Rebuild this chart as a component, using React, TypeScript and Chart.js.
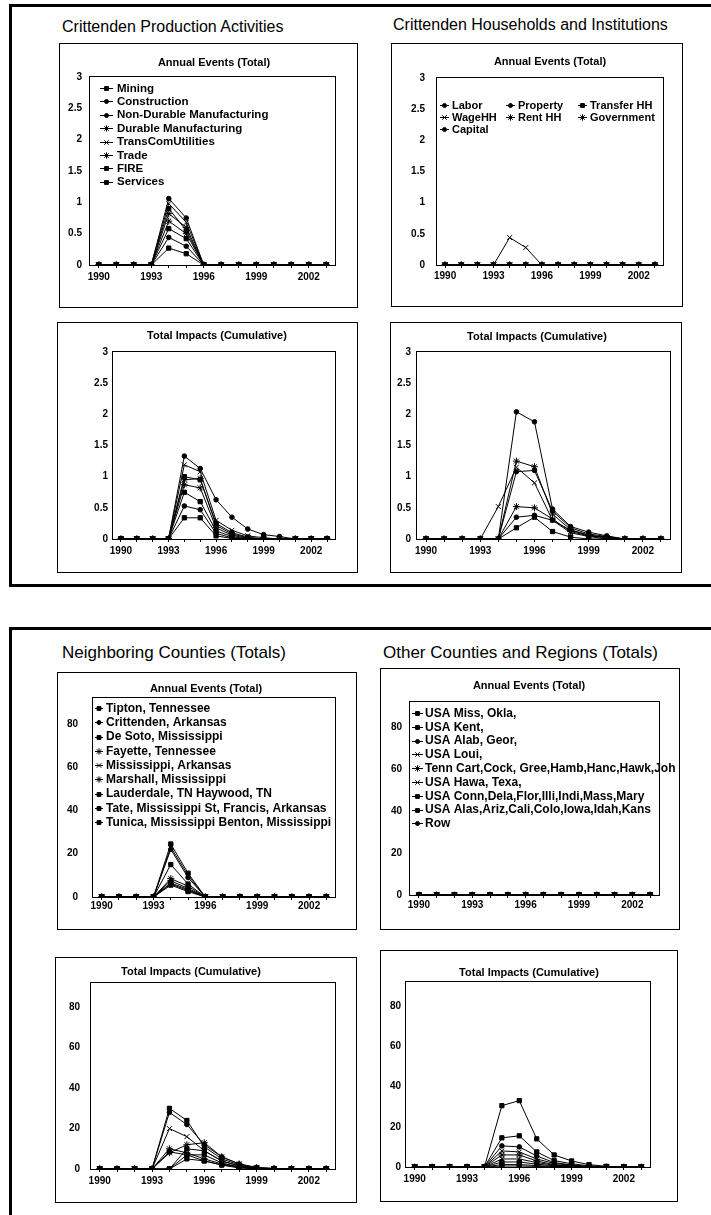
import React, { useEffect, useRef } from 'react';
import { Chart, registerables } from 'chart.js';
import { drawPoint } from 'chart.js/helpers';

Chart.register(...registerables);

const FONT = "'Liberation Sans', Arial, Helvetica, sans-serif";

// ---------- data ----------
const YEARS = ['1990', '1991', '1992', '1993', '1994', '1995', '1996', '1997', '1998', '1999', '2000', '2001', '2002', '2003'];

// Crittenden Production Activities
const PROD_LABELS = ['Mining', 'Construction', 'Non-Durable Manufacturing', 'Durable Manufacturing', 'TransComUtilities', 'Trade', 'FIRE', 'Services'];
const PROD_STYLES = ['rect', 'circle', 'circle', 'star', 'crossRot', 'star', 'rect', 'rect'];
const P_MINING_A = [0, 0, 0, 0, 0.27, 0.18, 0, 0, 0, 0, 0, 0, 0, 0];
const P_CONSTR_A = [0, 0, 0, 0, 1.06, 0.75, 0, 0, 0, 0, 0, 0, 0, 0];
const P_NONDUR_A = [0, 0, 0, 0, 0.44, 0.3, 0, 0, 0, 0, 0, 0, 0, 0];
const P_DUR_A = [0, 0, 0, 0, 0.82, 0.6, 0, 0, 0, 0, 0, 0, 0, 0];
const P_TRANS_A = [0, 0, 0, 0, 0.98, 0.68, 0, 0, 0, 0, 0, 0, 0, 0];
const P_TRADE_A = [0, 0, 0, 0, 0.7, 0.5, 0, 0, 0, 0, 0, 0, 0, 0];
const P_FIRE_A = [0, 0, 0, 0, 0.58, 0.42, 0, 0, 0, 0, 0, 0, 0, 0];
const P_SERV_A = [0, 0, 0, 0, 0.9, 0.55, 0, 0, 0, 0, 0, 0, 0, 0];

const P_MINING_C = [0, 0, 0, 0, 0.34, 0.34, 0.05, 0.01, 0, 0, 0, 0, 0, 0];
const P_CONSTR_C = [0, 0, 0, 0, 1.33, 1.13, 0.63, 0.35, 0.16, 0.07, 0.04, 0, 0, 0];
const P_NONDUR_C = [0, 0, 0, 0, 0.53, 0.47, 0.09, 0.02, 0, 0, 0, 0, 0, 0];
const P_DUR_C = [0, 0, 0, 0, 0.95, 0.97, 0.22, 0.08, 0.02, 0, 0, 0, 0, 0];
const P_TRANS_C = [0, 0, 0, 0, 1.19, 1.08, 0.3, 0.14, 0.05, 0.02, 0, 0, 0, 0];
const P_TRADE_C = [0, 0, 0, 0, 0.87, 0.82, 0.18, 0.06, 0.01, 0, 0, 0, 0, 0];
const P_FIRE_C = [0, 0, 0, 0, 0.75, 0.6, 0.13, 0.04, 0, 0, 0, 0, 0, 0];
const P_SERV_C = [0, 0, 0, 0, 1.0, 0.95, 0.25, 0.1, 0.03, 0, 0, 0, 0, 0];

// Crittenden Households and Institutions
const HH_LABELS = ['Labor', 'Property', 'Transfer HH', 'WageHH', 'Rent HH', 'Government', 'Capital'];
const HH_STYLES = ['circle', 'circle', 'rect', 'crossRot', 'star', 'star', 'circle'];
const H_LABOR_A = [0, 0, 0, 0, 0, 0, 0, 0, 0, 0, 0, 0, 0, 0];
const H_PROP_A = [0, 0, 0, 0, 0, 0, 0, 0, 0, 0, 0, 0, 0, 0];
const H_TRANSF_A = [0, 0, 0, 0, 0, 0, 0, 0, 0, 0, 0, 0, 0, 0];
const H_WAGE_A = [0, 0, 0, 0, 0.44, 0.28, 0, 0, 0, 0, 0, 0, 0, 0];
const H_RENT_A = [0, 0, 0, 0, 0, 0, 0, 0, 0, 0, 0, 0, 0, 0];
const H_GOV_A = [0, 0, 0, 0, 0, 0, 0, 0, 0, 0, 0, 0, 0, 0];
const H_CAP_A = [0, 0, 0, 0, 0, 0, 0, 0, 0, 0, 0, 0, 0, 0];

const H_LABOR_C = [0, 0, 0, 0, 0, 2.04, 1.88, 0.48, 0.2, 0.11, 0.05, 0, 0, 0];
const H_PROP_C = [0, 0, 0, 0, 0, 1.08, 1.1, 0.45, 0.18, 0.08, 0.04, 0, 0, 0];
const H_TRANSF_C = [0, 0, 0, 0, 0, 0.18, 0.35, 0.12, 0.03, 0, 0, 0, 0, 0];
const H_WAGE_C = [0, 0, 0, 0, 0.52, 1.15, 0.9, 0.3, 0.1, 0.04, 0, 0, 0, 0];
const H_RENT_C = [0, 0, 0, 0, 0, 1.25, 1.16, 0.4, 0.15, 0.06, 0.02, 0, 0, 0];
const H_GOV_C = [0, 0, 0, 0, 0, 0.52, 0.5, 0.32, 0.12, 0.05, 0.02, 0, 0, 0];
const H_CAP_C = [0, 0, 0, 0, 0, 0.35, 0.38, 0.3, 0.14, 0.06, 0.03, 0, 0, 0];

// Neighboring Counties
const NB_LABELS = ['Tipton, Tennessee', 'Crittenden, Arkansas', 'De Soto, Mississippi', 'Fayette, Tennessee', 'Mississippi, Arkansas', 'Marshall, Mississippi', 'Lauderdale, TN Haywood, TN', 'Tate, Mississippi St, Francis, Arkansas', 'Tunica, Mississippi Benton, Mississippi'];
const NB_STYLES = ['rect', 'circle', 'rect', 'star', 'crossRot', 'star', 'rect', 'rect', 'rect'];
const N_TIPTON_A = [0, 0, 0, 0, 6.5, 3.5, 0, 0, 0, 0, 0, 0, 0, 0];
const N_CRITT_A = [0, 0, 0, 0, 22, 9, 0, 0, 0, 0, 0, 0, 0, 0];
const N_DESOTO_A = [0, 0, 0, 0, 24.5, 11, 0, 0, 0, 0, 0, 0, 0, 0];
const N_FAYETTE_A = [0, 0, 0, 0, 8.5, 5, 0, 0, 0, 0, 0, 0, 0, 0];
const N_MISS_A = [0, 0, 0, 0, 23, 10, 0, 0, 0, 0, 0, 0, 0, 0];
const N_MARSH_A = [0, 0, 0, 0, 7.5, 4, 0, 0, 0, 0, 0, 0, 0, 0];
const N_LAUD_A = [0, 0, 0, 0, 15, 6, 0, 0, 0, 0, 0, 0, 0, 0];
const N_TATE_A = [0, 0, 0, 0, 6, 3, 0, 0, 0, 0, 0, 0, 0, 0];
const N_TUNICA_A = [0, 0, 0, 0, 5.5, 2.5, 0, 0, 0, 0, 0, 0, 0, 0];

const N_TIPTON_C = [0, 0, 0, 0, 8.5, 7, 4, 2, 0.8, 0.2, 0, 0, 0, 0];
const N_CRITT_C = [0, 0, 0, 0, 28, 22, 12, 6, 2.5, 0.8, 0.3, 0, 0, 0];
const N_DESOTO_C = [0, 0, 0, 0, 30, 24, 11, 5, 2, 0.5, 0.2, 0, 0, 0];
const N_FAYETTE_C = [0, 0, 0, 0, 10, 8, 5, 2.5, 1, 0.3, 0, 0, 0, 0];
const N_MISS_C = [0, 0, 0, 0, 20, 16, 9, 4, 1.5, 0.4, 0, 0, 0, 0];
const N_MARSH_C = [0, 0, 0, 0, 8, 12, 13, 6, 2.5, 0.6, 0.2, 0, 0, 0];
const N_LAUD_C = [0, 0, 0, 0, 0, 10, 9, 4, 1.5, 0.4, 0, 0, 0, 0];
const N_TATE_C = [0, 0, 0, 0, 0, 7, 7, 3, 1, 0.3, 0, 0, 0, 0];
const N_TUNICA_C = [0, 0, 0, 0, 0, 5, 4, 2, 0.5, 0, 0, 0, 0, 0];

// Other Counties and Regions
const OT_LABELS = ['USA Miss, Okla,', 'USA Kent,', 'USA Alab, Geor,', 'USA Loui,', 'Tenn Cart,Cock, Gree,Hamb,Hanc,Hawk,Joh', 'USA Hawa, Texa,', 'USA Conn,Dela,Flor,Illi,Indi,Mass,Mary', 'USA Alas,Ariz,Cali,Colo,Iowa,Idah,Kans', 'Row'];
const OT_STYLES = ['rect', 'rect', 'circle', 'crossRot', 'star', 'crossRot', 'rect', 'rect', 'circle'];
const O_MISS_A = [0, 0, 0, 0, 0, 0, 0, 0, 0, 0, 0, 0, 0, 0];
const O_KENT_A = [0, 0, 0, 0, 0, 0, 0, 0, 0, 0, 0, 0, 0, 0];
const O_ALAB_A = [0, 0, 0, 0, 0, 0, 0, 0, 0, 0, 0, 0, 0, 0];
const O_LOUI_A = [0, 0, 0, 0, 0, 0, 0, 0, 0, 0, 0, 0, 0, 0];
const O_TENN_A = [0, 0, 0, 0, 0, 0, 0, 0, 0, 0, 0, 0, 0, 0];
const O_HAWA_A = [0, 0, 0, 0, 0, 0, 0, 0, 0, 0, 0, 0, 0, 0];
const O_CONN_A = [0, 0, 0, 0, 0, 0, 0, 0, 0, 0, 0, 0, 0, 0];
const O_ALAS_A = [0, 0, 0, 0, 0, 0, 0, 0, 0, 0, 0, 0, 0, 0];
const O_ROW_A = [0, 0, 0, 0, 0, 0, 0, 0, 0, 0, 0, 0, 0, 0];

const O_MISS_C = [0, 0, 0, 0, 0, 30.5, 33, 14, 6, 3, 1.2, 0.3, 0, 0];
const O_KENT_C = [0, 0, 0, 0, 0, 14.5, 15.5, 7.5, 3.2, 1.6, 0.6, 0.2, 0, 0];
const O_ALAB_C = [0, 0, 0, 0, 0, 10.5, 10, 5.5, 2.2, 1, 0.3, 0, 0, 0];
const O_LOUI_C = [0, 0, 0, 0, 0, 8, 7.5, 4, 1.8, 0.8, 0.2, 0, 0, 0];
const O_TENN_C = [0, 0, 0, 0, 0, 6, 6, 3, 1.2, 0.5, 0.1, 0, 0, 0];
const O_HAWA_C = [0, 0, 0, 0, 0, 4, 4, 2.2, 0.9, 0.3, 0, 0, 0, 0];
const O_CONN_C = [0, 0, 0, 0, 0, 2.5, 2.5, 1.4, 0.6, 0.2, 0, 0, 0, 0];
const O_ALAS_C = [0, 0, 0, 0, 0, 1.2, 1.2, 0.7, 0.3, 0.1, 0, 0, 0, 0];
const O_ROW_C = [0, 0, 0, 0, 0, 0.5, 0.5, 0.3, 0.1, 0, 0, 0, 0, 0];

// ---------- layout ----------
type Rect = [number, number, number, number];
interface LegendSpec { x0: number; y0: number; rowH: number; cols: number; colX: number[]; lineLen: number; gap: number; font: string; }
interface PanelSpec {
  box: Rect; plot: Rect; title: string; titleX: number; titleY: number;
  yMax: number; yStep: number; yPad: number; xPad: number;
  labels: string[]; styles: string[]; series: number[][]; legend?: LegendSpec;
}

function radiusFor(style: string) {
  if (style === 'rect') return 3;
  if (style === 'circle') return 2.3;
  return 3.5;
}

function Panel({ spec }: { spec: PanelSpec }) {
  const ref = useRef<HTMLCanvasElement>(null);
  const [bl, bt, br, bb] = spec.box;
  const [pl, pt, pr, pb] = spec.plot;
  const w = br - bl;
  const h = bb - bt;
  useEffect(() => {
    const decor = {
      id: 'decor',
      beforeDatasetsDraw(chart: any) {
        const ctx = chart.ctx;
        const a = chart.chartArea;
        ctx.save();
        ctx.strokeStyle = '#000';
        ctx.lineWidth = 1;
        ctx.strokeRect(a.left - 0.5, a.top - 0.5, a.right - a.left + 1, a.bottom - a.top + 1);
        ctx.restore();
      },
      afterDraw(chart: any) {
        const ctx = chart.ctx;
        ctx.save();
        ctx.fillStyle = '#000';
        ctx.font = `bold 11px ${FONT}`;
        ctx.textAlign = 'center';
        ctx.textBaseline = 'middle';
        ctx.fillText(spec.title, spec.titleX - bl, spec.titleY - bt);
        const L = spec.legend;
        if (L) {
          ctx.font = L.font;
          ctx.textAlign = 'left';
          spec.labels.forEach((lab, i) => {
            const row = Math.floor(i / L.cols);
            const col = i % L.cols;
            const x = L.x0 - bl + L.colX[col];
            const y = L.y0 - bt + row * L.rowH;
            ctx.strokeStyle = '#000';
            ctx.fillStyle = '#000';
            ctx.lineWidth = 1;
            ctx.beginPath();
            ctx.moveTo(x, Math.round(y) + 0.5);
            ctx.lineTo(x + L.lineLen, Math.round(y) + 0.5);
            ctx.stroke();
            drawPoint(ctx, { pointStyle: spec.styles[i] as any, rotation: 0, radius: radiusFor(spec.styles[i]) - 0.3, borderWidth: 1 } as any, x + L.lineLen / 2, Math.round(y) + 0.5);
            ctx.fillStyle = '#000';
            ctx.fillText(lab, x + L.lineLen + L.gap, y + 0.5);
          });
        }
        ctx.restore();
      },
    };
    const tickFont = { family: FONT, size: 10, weight: 'bold' as const };
    const chart = new Chart(ref.current as HTMLCanvasElement, {
      type: 'line',
      data: {
        labels: YEARS,
        datasets: spec.series.map((s, i) => ({
          label: spec.labels[i],
          data: s,
          borderColor: '#000',
          backgroundColor: '#000',
          borderWidth: 1,
          pointStyle: spec.styles[i] as any,
          pointRadius: radiusFor(spec.styles[i]),
          pointBorderWidth: 1,
          pointBackgroundColor: '#000',
          pointBorderColor: '#000',
          fill: false,
          tension: 0,
        })),
      },
      options: {
        responsive: false,
        animation: false,
        devicePixelRatio: 1,
        events: [],
        layout: { padding: { left: 0, top: pt - bt, right: br - pr, bottom: 0 } },
        plugins: { legend: { display: false }, title: { display: false }, tooltip: { enabled: false } },
        scales: {
          x: {
            type: 'category',
            offset: true,
            grid: { display: true, drawOnChartArea: false, drawTicks: true, tickLength: 3, color: '#000', offset: false },
            border: { display: false },
            ticks: {
              autoSkip: false, maxRotation: 0, minRotation: 0, padding: spec.xPad, color: '#000', font: tickFont,
              callback: (_v: any, i: number) => (i % 3 === 0 ? YEARS[i] : ''),
            },
            afterFit: (s: any) => { s.height = bb - pb; },
          },
          y: {
            min: 0,
            max: spec.yMax,
            grid: { display: false, drawTicks: false },
            border: { display: false },
            ticks: {
              stepSize: spec.yStep, includeBounds: false, padding: spec.yPad, color: '#000', font: tickFont,
              callback: (v: any) => String(Math.round(Number(v) * 100) / 100),
            },
            afterFit: (s: any) => { s.width = pl - bl; },
          },
        },
      } as any,
      plugins: [decor],
    });
    return () => chart.destroy();
  }, []);
  return (
    <>
      <div style={{ position: 'absolute', left: bl, top: bt, width: w, height: h, border: '1px solid #000', boxSizing: 'border-box' }} />
      <canvas ref={ref} width={w} height={h} style={{ position: 'absolute', left: bl, top: bt, width: w, height: h }} />
    </>
  );
}

const PANELS: PanelSpec[] = [
  {
    box: [59, 43, 358, 308], plot: [90, 77, 335, 265], title: 'Annual Events (Total)', titleX: 214, titleY: 63,
    yMax: 3, yStep: 0.5, yPad: 8, xPad: 3,
    labels: PROD_LABELS, styles: PROD_STYLES,
    series: [P_MINING_A, P_CONSTR_A, P_NONDUR_A, P_DUR_A, P_TRANS_A, P_TRADE_A, P_FIRE_A, P_SERV_A],
    legend: { x0: 100, y0: 88, rowH: 13.4, cols: 1, colX: [0], lineLen: 13, gap: 4, font: `bold 11.5px ${FONT}` },
  },
  {
    box: [57, 322, 358, 573], plot: [113, 352, 335, 539], title: 'Total Impacts (Cumulative)', titleX: 217, titleY: 336,
    yMax: 3, yStep: 0.5, yPad: 5, xPad: 3,
    labels: PROD_LABELS, styles: PROD_STYLES,
    series: [P_MINING_C, P_CONSTR_C, P_NONDUR_C, P_DUR_C, P_TRANS_C, P_TRADE_C, P_FIRE_C, P_SERV_C],
  },
  {
    box: [391, 43, 683, 307], plot: [437, 78, 663, 265], title: 'Annual Events (Total)', titleX: 550, titleY: 62,
    yMax: 3, yStep: 0.5, yPad: 12, xPad: 2,
    labels: HH_LABELS, styles: HH_STYLES,
    series: [H_LABOR_A, H_PROP_A, H_TRANSF_A, H_WAGE_A, H_RENT_A, H_GOV_A, H_CAP_A],
    legend: { x0: 440, y0: 105, rowH: 12, cols: 3, colX: [0, 66, 138], lineLen: 9, gap: 3, font: `bold 11px ${FONT}` },
  },
  {
    box: [390, 322, 682, 573], plot: [417, 352, 670, 539], title: 'Total Impacts (Cumulative)', titleX: 537, titleY: 337,
    yMax: 3, yStep: 0.5, yPad: 6, xPad: 3,
    labels: HH_LABELS, styles: HH_STYLES,
    series: [H_LABOR_C, H_PROP_C, H_TRANSF_C, H_WAGE_C, H_RENT_C, H_GOV_C, H_CAP_C],
  },
  {
    box: [57, 672, 357, 930], plot: [93, 698, 335, 897], title: 'Annual Events (Total)', titleX: 206, titleY: 689,
    yMax: 92, yStep: 20, yPad: 15, xPad: 0,
    labels: NB_LABELS, styles: NB_STYLES,
    series: [N_TIPTON_A, N_CRITT_A, N_DESOTO_A, N_FAYETTE_A, N_MISS_A, N_MARSH_A, N_LAUD_A, N_TATE_A, N_TUNICA_A],
    legend: { x0: 95, y0: 708, rowH: 14.25, cols: 1, colX: [0], lineLen: 8, gap: 3, font: `bold 12px ${FONT}` },
  },
  {
    box: [55, 957, 357, 1203], plot: [91, 983, 335, 1169], title: 'Total Impacts (Cumulative)', titleX: 191, titleY: 972,
    yMax: 92, yStep: 20, yPad: 11, xPad: 3,
    labels: NB_LABELS, styles: NB_STYLES,
    series: [N_TIPTON_C, N_CRITT_C, N_DESOTO_C, N_FAYETTE_C, N_MISS_C, N_MARSH_C, N_LAUD_C, N_TATE_C, N_TUNICA_C],
  },
  {
    box: [380, 668, 680, 930], plot: [410, 702, 659, 895], title: 'Annual Events (Total)', titleX: 529, titleY: 686,
    yMax: 92, yStep: 20, yPad: 8, xPad: 1,
    labels: OT_LABELS, styles: OT_STYLES,
    series: [O_MISS_A, O_KENT_A, O_ALAB_A, O_LOUI_A, O_TENN_A, O_HAWA_A, O_CONN_A, O_ALAS_A, O_ROW_A],
    legend: { x0: 412, y0: 713, rowH: 13.8, cols: 1, colX: [0], lineLen: 11, gap: 2, font: `bold 12px ${FONT}` },
  },
  {
    box: [380, 950, 678, 1202], plot: [406, 982, 650, 1167], title: 'Total Impacts (Cumulative)', titleX: 529, titleY: 973,
    yMax: 92, yStep: 20, yPad: 5, xPad: 3,
    labels: OT_LABELS, styles: OT_STYLES,
    series: [O_MISS_C, O_KENT_C, O_ALAB_C, O_LOUI_C, O_TENN_C, O_HAWA_C, O_CONN_C, O_ALAS_C, O_ROW_C],
  },
];

const sectionTitle = (size: number): React.CSSProperties => ({
  position: 'absolute', fontFamily: FONT, fontSize: size, lineHeight: `${size}px`, color: '#000', whiteSpace: 'nowrap',
});

export default function App() {
  return (
    <div style={{ position: 'absolute', left: 0, top: 0, width: 711, height: 1215, background: '#fff', overflow: 'hidden' }}>
      <div style={{ position: 'absolute', left: 9, top: 4, width: 702, height: 583, borderTop: '3px solid #000', borderLeft: '3px solid #000', borderBottom: '3px solid #000', boxSizing: 'border-box' }} />
      <div style={{ position: 'absolute', left: 9, top: 627, width: 702, height: 588, borderTop: '3px solid #000', borderLeft: '3px solid #000', boxSizing: 'border-box' }} />
      <div style={{ ...sectionTitle(16), left: 62, top: 19 }}>Crittenden Production Activities</div>
      <div style={{ ...sectionTitle(16), left: 393, top: 17 }}>Crittenden Households and Institutions</div>
      <div style={{ ...sectionTitle(17), left: 62, top: 644 }}>Neighboring Counties (Totals)</div>
      <div style={{ ...sectionTitle(17), left: 383, top: 644 }}>Other Counties and Regions (Totals)</div>
      {PANELS.map((p, i) => <Panel key={i} spec={p} />)}
    </div>
  );
}
